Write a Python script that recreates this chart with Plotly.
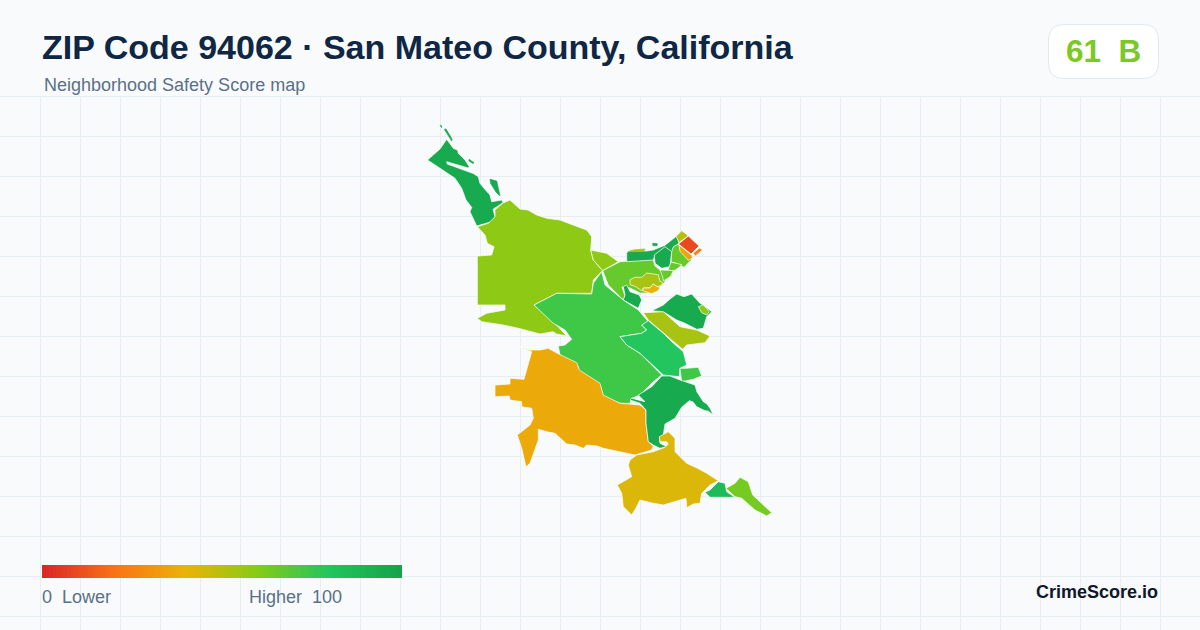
"""ZIP code safety score map, drawn as filled tract outlines on a pixel-sized plane."""
import plotly.graph_objects as go
from plotly.colors import sample_colorscale

TITLE = "ZIP Code 94062 · San Mateo County, California"
SUBTITLE = "Neighborhood Safety Score map"
BADGE = "61\u00a0\u00a0B"
BRAND = "CrimeScore.io"
LEGEND_LOW = "0\u00a0\u00a0Lower"
LEGEND_HIGH = "Higher\u00a0\u00a0100"

SCALE = [
    [0.0, "#dc2626"],
    [0.2, "#f97316"],
    [0.4, "#eab308"],
    [0.6, "#84cc16"],
    [0.8, "#22c55e"],
    [1.0, "#16a34a"],
]
LEGEND_SCORES = list(range(0, 101))

# tract outlines
NW_MAIN = [(427.5, 160), (440, 149), (446.7, 139.3), (453.3, 148.3), (457.7, 150.3), (458.3, 153.3), (465, 160),
           (469.3, 166.7), (468.3, 168), (446.7, 161.7), (447.2, 164), (463.3, 170.2), (473.3, 173.5), (478.3, 176.7),
           (480, 183.3), (484, 188.3), (490, 195), (491.7, 201.7), (497, 200.5), (501.7, 200), (503, 202.7),
           (493, 209.3), (495, 216.7), (491.7, 221.7), (476.7, 226), (470, 211.7), (471.7, 207.3), (466, 200),
           (461.7, 188.3), (455, 178.3), (440, 168.3)]
NW_TIP = [(440, 125), (442, 126.5), (441.5, 127.5)]
NW_SLIVER_A = [(444.3, 129.3), (446, 129), (452, 139), (451.7, 141)]
NW_SLIVER_B = [(469, 159.3), (474, 162.7), (473, 163.5), (469, 161)]
NW_SLIVER_C = [(490, 179.3), (496.7, 181), (500, 196), (496, 192), (490.7, 183.5)]
COAST = [(495, 210), (503, 203), (510, 200), (515, 205), (520, 209), (528, 210), (536.7, 215), (546.7, 218.3),
         (560, 220), (573, 225), (586.7, 230), (591.7, 236.7), (590.7, 250), (593.3, 260), (602.7, 270.7),
         (593.3, 280), (591.7, 293.3), (556.7, 293.3), (534, 305), (546, 315), (555, 323.3), (566.7, 336),
         (556.7, 334), (553, 331.7), (540, 334), (518.3, 328.3), (503.3, 325), (481.7, 321.7), (477.3, 318.3),
         (486.7, 313.3), (505, 310), (505, 305), (477.3, 305), (477.3, 256), (491.7, 255), (494, 246.7),
         (487.3, 243.3), (485, 235), (477.3, 226.7), (488.3, 223.3), (495, 216.7)]
WEDGE = [(590.7, 250), (606.7, 253.3), (618.3, 261.7), (602.7, 270.7), (593.3, 260)]
ATHERTON = [(602.7, 270.7), (620, 261.7), (653, 259.3), (655, 266), (660, 270), (673, 270), (672, 276), (665, 278),
            (665, 282), (658, 288), (650, 293), (640, 293), (630, 288), (622, 287), (625, 296), (623.3, 300),
            (608.3, 285)]
ATHERTON_PATCH = [(623.3, 286.7), (626.7, 285), (630, 291.7), (639.3, 295), (641.7, 300), (638.3, 308.3),
                  (623.3, 300), (625, 295)]
OLIVE_ISLAND = [(630, 279.7), (635, 277.3), (641.7, 277.3), (646.7, 273), (658.3, 274.7), (660, 281.3), (663.3, 283),
                (660, 286.3), (656.7, 286.3), (653.3, 284), (650, 288), (643.3, 288), (641.7, 290.7), (635, 286.3),
                (630, 284.7)]
GOLD_ISLAND = [(643.3, 288), (650, 288), (653.3, 284), (656.7, 286.3), (660, 287.3), (658.3, 290.7), (651.7, 293.7),
               (647.3, 292), (642.7, 290.7)]
BAY_BAND = [(626.7, 253.3), (628, 251), (646.7, 251), (656, 249.5), (655, 255), (653.3, 260), (626.7, 261.7)]
BAY_SLIVER = [(630, 250.7), (635, 249.7), (645, 249), (644, 251), (630.7, 251.5)]
BAY_DOT = [(652.7, 243.3), (657.3, 243.7), (657, 245.7), (653, 245.7)]
NE_ARM = [(655, 250), (665, 246), (676.7, 236.7), (678.3, 243.3), (673.3, 246.7), (671.7, 251.7), (665, 250),
          (654.3, 255)]
NE_CORE = [(654.3, 255), (665, 246.7), (671.7, 251.7), (670, 266.7), (661.7, 268.3), (655, 263.3)]
NE_LIME = [(678.3, 244), (683.3, 251.3), (691.7, 259.7), (684, 267.3), (675, 263), (671, 262), (671.7, 251.7),
           (673.3, 246.7)]
NE_LOWER = [(671, 262), (682, 264.7), (677, 269), (673.5, 271), (668, 270)]
NE_TAIL = [(660, 270), (673.5, 270.5), (670, 277), (663.3, 281), (663, 278)]
NE_RED = [(678.5, 244), (688.3, 236), (699, 246), (691, 254)]
NE_OLIVE = [(676, 236.3), (681.7, 230.7), (687.3, 234.7), (687.8, 236.5), (679, 242.5)]
NE_AMBER = [(679, 245), (691.7, 255.3), (692.7, 258), (688.3, 260.3), (680, 251.3)]
NE_ORANGE = [(693.3, 253), (699.3, 248), (702.7, 249.7), (697.3, 254), (695, 256.3)]
CENTRAL = [(534, 305), (556.7, 293.3), (591.7, 294), (593.3, 283.3), (601.7, 271.7), (605, 285), (623.3, 300),
           (638.3, 310), (648.3, 321.7), (641.7, 325), (646.7, 330), (641.7, 333.3), (620, 336.7), (626.7, 345),
           (640, 353.3), (661.7, 375), (653.3, 381.7), (640, 395), (631.7, 398.3), (630, 403.3), (620, 403.3),
           (603.3, 396.7), (600, 385), (578.3, 371.7), (578.3, 366.7), (560, 355), (558.3, 346), (565, 345),
           (571.7, 339.3), (565, 330), (553.3, 323.3)]
BRIGHT = [(620, 336.7), (641.7, 333.3), (646.7, 330), (641.7, 325), (648.3, 320.7), (663.3, 333.3), (671.7, 341.7),
          (683.3, 351.7), (686.7, 365), (680, 368.3), (679.3, 376.7), (663.3, 375), (640, 353.3), (626.7, 345)]
OLIVE_STRIP = [(643.3, 312.7), (663.3, 311.7), (680, 326.7), (696.7, 330), (710, 336), (705, 342.7), (686.7, 345),
               (682.7, 349.3), (671.7, 340), (663.3, 332.7), (648.3, 320)]
EAST = [(651.7, 310.7), (663.3, 305), (670, 299), (676.7, 294), (684, 296.7), (691.7, 294), (700, 303.3), (703.3, 305),
        (711.7, 311.7), (706.7, 316.7), (703.3, 328.3), (696.7, 329.3), (685, 323.3), (676.7, 320), (663.3, 311.7)]
EAST_PATCH = [(698.3, 306.7), (703.3, 305), (709.3, 311.7), (706.7, 315), (701.7, 312.7)]
SMALL_MID = [(680, 368.3), (686.7, 368.3), (698.3, 367.3), (701.7, 376), (693.3, 379.3), (681.7, 381.7)]
SOUTH_DARK = [(661.7, 376), (670, 376), (680, 380), (695, 385), (697, 392), (700, 396.7), (703.3, 401.7), (707, 404),
              (710, 408.3), (713.3, 415), (708, 411), (705, 410.7), (696.7, 406.7), (693, 402), (689.3, 400.7),
              (681.7, 407.3), (675, 418.3), (665, 424), (663.3, 435), (659.3, 438.3), (660, 443.3), (666.7, 446.7),
              (660, 448.3), (653.3, 445), (648.3, 441.7), (646, 423.3), (646, 410), (640, 403.3), (630, 400),
              (631.7, 398.3), (645, 401.7), (638.3, 395), (651.7, 386.7)]
AMBER = [(520, 346.7), (530, 350), (540, 350), (548.3, 348.3), (557.3, 353.3), (576.7, 362.7), (579.3, 370), (600, 383.3),
         (603.3, 395), (620, 403.3), (640, 405), (646, 410), (646, 423.3), (648.3, 441.7), (653.3, 446), (651.7, 450),
         (635, 455), (626.7, 453.3), (615, 451), (603.3, 448.3), (597, 446), (586.7, 445), (583.3, 448.3), (575, 445),
         (566.7, 444), (560, 438), (555, 433.3), (548, 432), (538.3, 429.3), (538.3, 440), (530, 463.3), (526, 466.7),
         (521.7, 448.3), (517.3, 435), (530, 425), (533.3, 418.3), (531.7, 408.3), (521.7, 406.7), (521.7, 401.7),
         (510, 400), (509.3, 396), (495, 396.7), (495, 385), (510, 384), (510, 378.3), (524, 379.3), (531.7, 351.7)]
GOLD = [(630, 460), (636.7, 455), (653.3, 451.7), (665, 447.3), (668.3, 444), (666.7, 441.7), (660, 441.7),
        (659.3, 436.7), (668.3, 431.7), (675, 438.3), (675, 451.7), (680, 457), (686.7, 463.3), (697, 468), (706.7, 473.3),
        (718.3, 480.7), (710, 485), (701.7, 493.3), (700, 503.3), (693.3, 504), (686.7, 507.7), (686, 498.3), (675, 501.7),
        (663.3, 505), (652, 503), (640, 500), (636, 508), (631.7, 515), (623.3, 506.7), (621.7, 493.3), (617.3, 485),
        (631.7, 476.7), (628.3, 465)]
SOUTH_GREEN = [(705, 492.3), (710, 490), (718.3, 481.7), (725, 483.3), (726.7, 491.7), (735, 497.3), (721.7, 497.3),
               (710, 497.3)]
SOUTHEAST = [(726, 488.3), (735, 483.3), (740, 477.3), (748.3, 481.7), (752.7, 495), (763.3, 505), (771.7, 512.7),
             (766.7, 516), (755, 510), (741.7, 498.3), (735, 496.7)]

# outline, score; later entries sit on top
TRACTS = [
    (NW_MAIN, 96), (NW_TIP, 96), (NW_SLIVER_A, 96), (NW_SLIVER_B, 96), (NW_SLIVER_C, 96),
    (COAST, 58), (WEDGE, 58), (ATHERTON, 66), (ATHERTON_PATCH, 96), (OLIVE_ISLAND, 53), (GOLD_ISLAND, 41),
    (BAY_BAND, 96), (BAY_SLIVER, 53), (BAY_DOT, 96), (NE_ARM, 96), (NE_CORE, 96), (NE_LIME, 66), (NE_LOWER, 66),
    (NE_TAIL, 66), (NE_RED, 9), (NE_OLIVE, 50), (NE_AMBER, 35), (NE_ORANGE, 24),
    (CENTRAL, 74), (BRIGHT, 80), (OLIVE_STRIP, 53), (EAST, 96), (EAST_PATCH, 58), (SMALL_MID, 74),
    (AMBER, 37), (SOUTH_DARK, 96), (GOLD, 43), (SOUTH_GREEN, 86), (SOUTHEAST, 63),
]
# too thin to carry the white border
BORDERLESS = [NW_TIP, NW_SLIVER_A, NW_SLIVER_B, NW_SLIVER_C, BAY_SLIVER, BAY_DOT, NE_ARM]

fig = go.Figure()

for outline, score in TRACTS:
    xs = [p[0] for p in outline] + [outline[0][0]]
    ys = [p[1] for p in outline] + [outline[0][1]]
    color = sample_colorscale(SCALE, score / 100)[0]
    edge = color if outline in BORDERLESS else "#ffffff"
    fig.add_trace(go.Scatter(
        x=xs, y=ys, mode="lines", fill="toself", fillcolor=color,
        line=dict(color=edge, width=0.7),
        hoverinfo="skip", showlegend=False,
    ))

# legend ramp
fig.add_trace(go.Heatmap(
    z=[LEGEND_SCORES], x0=43.8, dx=3.564, y0=571.5, dy=13,
    colorscale=SCALE, zmin=0, zmax=100, showscale=False, hoverinfo="skip",
))

# plain band above the grid and the score badge
fig.add_shape(type="rect", x0=0, x1=1200, y0=0, y1=96, layer="between",
              fillcolor="#f8fafc", line_width=0)
fig.add_shape(type="path", layer="above",
              path="M 1064 24.5 L 1143 24.5 Q 1158.5 24.5 1158.5 40 L 1158.5 63 Q 1158.5 78.5 1143 78.5 "
                   "L 1064 78.5 Q 1048.5 78.5 1048.5 63 L 1048.5 40 Q 1048.5 24.5 1064 24.5 Z",
              fillcolor="#ffffff", line=dict(color="#e2e8f0", width=1))

FONT = "Liberation Sans"


def label(x, y, text, size, color, bold=False, anchor="left"):
    fig.add_annotation(
        x=x, y=y, text=f"<b>{text}</b>" if bold else text, showarrow=False,
        xanchor=anchor, yanchor="middle",
        font=dict(family=FONT, size=size, color=color),
    )


label(40, 47, TITLE, 34, "#0f2744", bold=True)
label(42, 85, SUBTITLE, 18, "#5b7088")
label(1103, 51, BADGE, 31.5, "#7cc924", bold=True, anchor="center")
label(40, 597, LEGEND_LOW, 18, "#5b7088")
label(344, 597, LEGEND_HIGH, 18, "#5b7088", anchor="right")
label(1160, 592, BRAND, 18, "#0f172a", bold=True, anchor="right")

fig.update_layout(
    width=1200, height=630,
    margin=dict(l=0, r=0, t=0, b=0),
    paper_bgcolor="#f8fafc", plot_bgcolor="#f8fafc",
    xaxis=dict(range=[0, 1200], tick0=0, dtick=40, showgrid=True, gridcolor="#e6eef2", gridwidth=1,
               zeroline=False, showticklabels=False, ticks=""),
    yaxis=dict(range=[630, 0], tick0=16, dtick=40, showgrid=True, gridcolor="#e6eef2", gridwidth=1,
               zeroline=False, showticklabels=False, ticks=""),
    showlegend=False,
)

fig.write_html("out.html", config={"displayModeBar": False},
               post_script="document.body.style.margin='0';document.body.style.overflow='hidden';")
